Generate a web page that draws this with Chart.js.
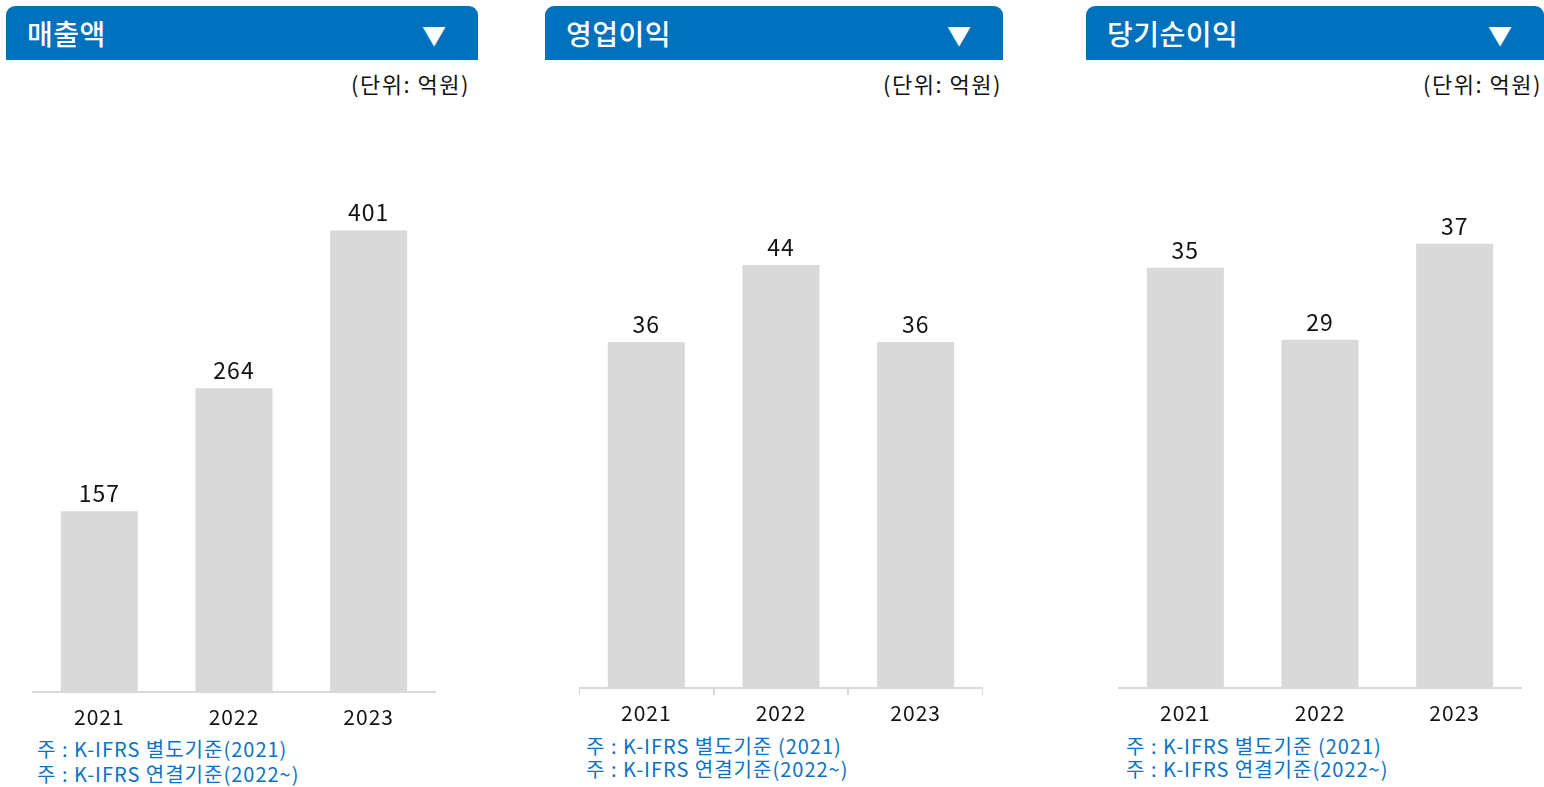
<!DOCTYPE html>
<html><head><meta charset="utf-8">
<script src="https://cdn.jsdelivr.net/npm/chart.js@4.4.1/dist/chart.umd.min.js"></script>
<style>
html,body{margin:0;padding:0;background:#fff;width:1544px;height:787px;overflow:hidden;font-family:"Noto Sans CJK KR","Noto Sans",sans-serif;}
.hdr{position:absolute;top:6px;height:54px;background:#0071BC;border-radius:9px 9px 0 0;color:#fff;}
.hdr .t{position:absolute;left:21px;top:0;line-height:54px;font-size:28px;font-weight:500;letter-spacing:0.5px;}
.hdr .a{position:absolute;right:32px;top:0;line-height:58px;font-size:24px;}
.unit{position:absolute;top:68px;font-size:22px;color:#111;line-height:30px;text-align:right;letter-spacing:1.5px;}
.note{position:absolute;font-size:20px;color:#0a72c4;line-height:25px;white-space:nowrap;letter-spacing:1px;}
.cw{position:absolute;top:120px;}
</style></head><body>
<div id="root"></div>
<script>
const titles = ['매출액', '영업이익', '당기순이익'];
const categories = ['2021', '2022', '2023'];
const salesValues = [157, 264, 401];
const opIncomeValues = [36, 44, 36];
const netIncomeValues = [35, 29, 37];
const axisMax = [497, 59.1, 47.3];
const unitLabel = '(단위: 억원)';
const notes = [
  ['주 : K-IFRS 별도기준(2021)', '주 : K-IFRS 연결기준(2022~)'],
  ['주 : K-IFRS 별도기준 (2021)', '주 : K-IFRS 연결기준(2022~)'],
  ['주 : K-IFRS 별도기준 (2021)', '주 : K-IFRS 연결기준(2022~)']
];
const seriesList = [salesValues, opIncomeValues, netIncomeValues];

const panels = [
  {hx:6, hw:472, ux:470, cx:32, cw:404, axisY:692, ticks:false, nx:37, ny:736, lh:25},
  {hx:545, hw:458, ux:1002, cx:579, cw:404, axisY:688, ticks:true, nx:586, ny:734, lh:23},
  {hx:1086, hw:458, ux:1542, cx:1118, cw:404, axisY:688, ticks:false, nx:1126, ny:734, lh:23}
];
const root = document.getElementById('root');

const valueLabels = {
  id:'valueLabels',
  afterDatasetsDraw(chart){
    const ctx = chart.ctx;
    const meta = chart.getDatasetMeta(0);
    const ds = chart.data.datasets[0];
    ctx.save();
    ctx.font = '23px "Noto Sans CJK KR","Noto Sans",sans-serif';
    ctx.fillStyle = '#111';
    ctx.textAlign = 'center';
    ctx.textBaseline = 'alphabetic';
    meta.data.forEach((bar,i)=>{
      ctx.fillText(String(ds.data[i]), bar.x, bar.y - 9);
    });
    ctx.restore();
  }
};

panels.forEach((p,idx)=>{
  const h = document.createElement('div');
  h.className='hdr'; h.style.left=p.hx+'px'; h.style.width=p.hw+'px';
  h.innerHTML = '<span class="t">'+titles[idx]+'</span><span class="a">▼</span>';
  root.appendChild(h);
  const u = document.createElement('div');
  u.className='unit'; u.style.left=(p.ux-220)+'px'; u.style.width='220px';
  u.textContent = unitLabel; root.appendChild(u);
  const n = document.createElement('div');
  n.className='note'; n.style.left=p.nx+'px'; n.style.top=p.ny+'px'; n.style.lineHeight=p.lh+'px';
  n.innerHTML = notes[idx].join('<br>'); root.appendChild(n);

  const w = document.createElement('div');
  w.className='cw';
  const axH = 44;
  const H = (p.axisY - 120) + axH;
  w.style.left = p.cx+'px'; w.style.width = p.cw+'px'; w.style.height = H+'px';
  const c = document.createElement('canvas');
  c.style.letterSpacing = '1px';
  w.appendChild(c); root.appendChild(w);

  new Chart(c, {
    type:'bar',
    data:{labels:categories, datasets:[{data:seriesList[idx], backgroundColor:'#d9d9d9', borderWidth:0, categoryPercentage:1, barPercentage:0.572}]},
    options:{
      responsive:true, maintainAspectRatio:false, animation:false,
      layout:{padding:0},
      plugins:{legend:{display:false}, tooltip:{enabled:false}},
      scales:{
        y:{display:false, min:0, max:axisMax[idx]},
        x:{
          afterFit(s){ s.height = axH; },
          border:{display:true, color:'#d9d9d9', width:2},
          grid:{display:p.ticks, drawOnChartArea:false, drawTicks:p.ticks, tickLength:7, color:'#d9d9d9', lineWidth:2, offset:true},
          ticks:{color:'#111', font:{family:'"Noto Sans CJK KR","Noto Sans",sans-serif', size:21}, padding: p.ticks ? 5 : 12, maxRotation:0}
        }
      }
    },
    plugins:[valueLabels]
  });
});
</script>
</body></html>
